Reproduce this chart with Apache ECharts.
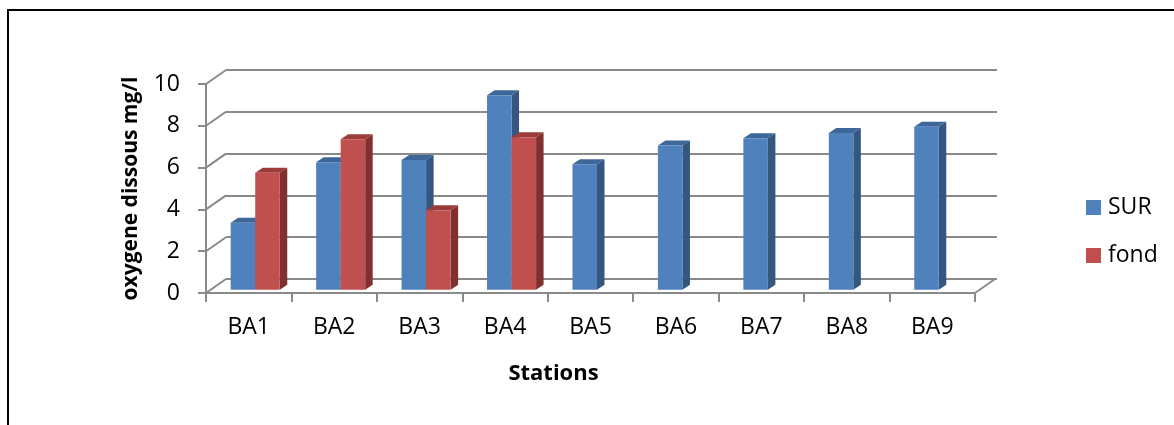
<!DOCTYPE html>
<html>
<head>
<meta charset="utf-8">
<script src="https://cdn.jsdelivr.net/npm/echarts@6/dist/echarts.min.js"></script>
<style>
  html, body { margin: 0; padding: 0; background: #fff; }
  #chart { width: 1174px; height: 425px; }
</style>
</head>
<body>
<div id="chart"></div>
<script>
// Dissolved oxygen per station, surface and bottom
const stations = ['BA1', 'BA2', 'BA3', 'BA4', 'BA5', 'BA6', 'BA7', 'BA8', 'BA9'];
const surValues = [3.2, 6.1, 6.2, 9.3, 6.0, 6.9, 7.25, 7.5, 7.8];
const fondValues = [5.6, 7.2, 3.8, 7.3, null, null, null, null, null];
const yTicks = [0, 2, 4, 6, 8, 10];

const FONT = '"Open Sans", "DejaVu Sans", sans-serif';
const GRID_COLOR = '#8a8a8a';

// Perspective offsets of the 3D look
const WALL_DX = 20, WALL_DY = -14;      // front plane -> back wall
const BAR_DX = 6.5, BAR_DY = -3.3;      // front plane -> bar front faces
const DEPTH_DX = 7.5, DEPTH_DY = -5;    // bar depth
const BAR_RATIO = 0.287;                // bar width / category width

const palette = {
  SUR:  { front: '#4f81bd', side: '#34567f', top: '#3d6699' },
  fond: { front: '#c0504d', side: '#7f302f', top: '#9c3c3a' }
};

function makeBarRenderer(slot, colors) {
  return function (params, api) {
    const v = api.value(1);
    if (v == null || isNaN(v)) return null;
    const i = api.value(0);
    const base = api.coord([i, 0]);
    const top = api.coord([i, v]);
    const band = api.size([1, 0])[0];
    const w = band * BAR_RATIO;
    const x0 = base[0] + BAR_DX + (slot === 0 ? -w : 0);
    const x1 = x0 + w;
    const yB = base[1] + BAR_DY;
    const yT = top[1] + BAR_DY;
    return {
      type: 'group',
      children: [
        { type: 'polygon', shape: { points: [[x1, yT], [x1 + DEPTH_DX, yT + DEPTH_DY], [x1 + DEPTH_DX, yB + DEPTH_DY], [x1, yB]] },
          style: { fill: colors.side } },
        { type: 'polygon', shape: { points: [[x0, yT], [x0 + DEPTH_DX, yT + DEPTH_DY], [x1 + DEPTH_DX, yT + DEPTH_DY], [x1, yT]] },
          style: { fill: colors.top } },
        { type: 'rect', shape: { x: x0, y: yT, width: w, height: yB - yT },
          style: { fill: colors.front } }
      ]
    };
  };
}

// Side wall and floor edges joining the front plane to the back wall
function renderFrame(params, api) {
  const v = api.value(0);
  const band = api.size([1, 0])[0];
  const p = api.coord([0, v]);
  const xl = p[0] - band / 2;
  const children = [
    { type: 'line', shape: { x1: xl, y1: p[1], x2: xl + WALL_DX, y2: p[1] + WALL_DY },
      style: { stroke: GRID_COLOR, lineWidth: 2 } }
  ];
  if (v === 0) {
    const q = api.coord([stations.length - 1, 0]);
    const xr = q[0] + band / 2;
    children.push({ type: 'line', shape: { x1: xr, y1: q[1], x2: xr + WALL_DX, y2: q[1] + WALL_DY },
      style: { stroke: GRID_COLOR, lineWidth: 2 } });
  }
  return { type: 'group', children };
}

const chart = echarts.init(document.getElementById('chart'), null, { renderer: 'canvas' });

const front = { left: 206, top: 84, width: 769, height: 209 };
const back = { left: front.left + WALL_DX, top: front.top + WALL_DY, width: 771, height: 209 };

chart.setOption({
  animation: false,
  backgroundColor: '#ffffff',
  textStyle: { fontFamily: FONT },
  grid: [
    Object.assign({ containLabel: false }, front),
    Object.assign({ containLabel: false }, back)
  ],
  xAxis: [
    {
      type: 'category', gridIndex: 0, data: stations,
      axisLine: { show: true, lineStyle: { color: GRID_COLOR, width: 2 } },
      axisTick: { show: true, length: 9, lineStyle: { color: GRID_COLOR, width: 2 } },
      axisLabel: { color: '#000', fontSize: 23, fontFamily: FONT, margin: 23 },
      splitLine: { show: false }
    },
    { type: 'category', gridIndex: 1, data: stations, show: false }
  ],
  yAxis: [
    {
      type: 'value', gridIndex: 0, min: 0, max: 10, interval: 2,
      axisLine: { show: true, lineStyle: { color: GRID_COLOR, width: 2 } },
      axisTick: { show: true, length: 8, lineStyle: { color: GRID_COLOR, width: 2 } },
      axisLabel: { color: '#000', fontSize: 23, fontFamily: FONT, margin: 26 },
      splitLine: { show: false },
      name: 'oxygene dissous mg/l',
      nameLocation: 'middle',
      nameRotate: 90,
      nameGap: 64,
      nameTextStyle: { color: '#000', fontSize: 21, fontWeight: 'bold', fontFamily: FONT }
    },
    {
      type: 'value', gridIndex: 1, min: 0, max: 10, interval: 2,
      axisLine: { show: false }, axisTick: { show: false }, axisLabel: { show: false },
      splitLine: { show: true, lineStyle: { color: GRID_COLOR, width: 2 } }
    }
  ],
  legend: {
    data: ['SUR', 'fond'],
    orient: 'vertical',
    left: 1081,
    top: 191,
    icon: 'rect',
    itemWidth: 15,
    itemHeight: 15,
    itemGap: 25,
    textStyle: { color: '#000', fontSize: 23, fontFamily: FONT, padding: [0, 0, 0, 2] }
  },
  graphic: [
    { type: 'rect', shape: { x: 8, y: 10, width: 1300, height: 600 },
      style: { fill: null, stroke: '#000', lineWidth: 2 }, silent: true, z: 100 },
    { type: 'text', x: 553.5, y: 374, style: { text: 'Stations', fill: '#000', font: 'bold 22px ' + FONT,
      textAlign: 'center', textVerticalAlign: 'middle' } }
  ],
  series: [
    {
      name: 'frame', type: 'custom', xAxisIndex: 0, yAxisIndex: 0, silent: true,
      data: yTicks.map(v => [v]),
      encode: { y: 0 },
      renderItem: renderFrame, z: 1
    },
    {
      name: 'SUR', type: 'custom', xAxisIndex: 0, yAxisIndex: 0,
      itemStyle: { color: palette.SUR.front },
      data: surValues.map((v, i) => [i, v]),
      encode: { x: 0, y: 1 },
      renderItem: makeBarRenderer(0, palette.SUR), z: 3
    },
    {
      name: 'fond', type: 'custom', xAxisIndex: 0, yAxisIndex: 0,
      itemStyle: { color: palette.fond.front },
      data: fondValues.map((v, i) => [i, v]),
      encode: { x: 0, y: 1 },
      renderItem: makeBarRenderer(1, palette.fond), z: 4
    }
  ]
});
</script>
</body>
</html>
